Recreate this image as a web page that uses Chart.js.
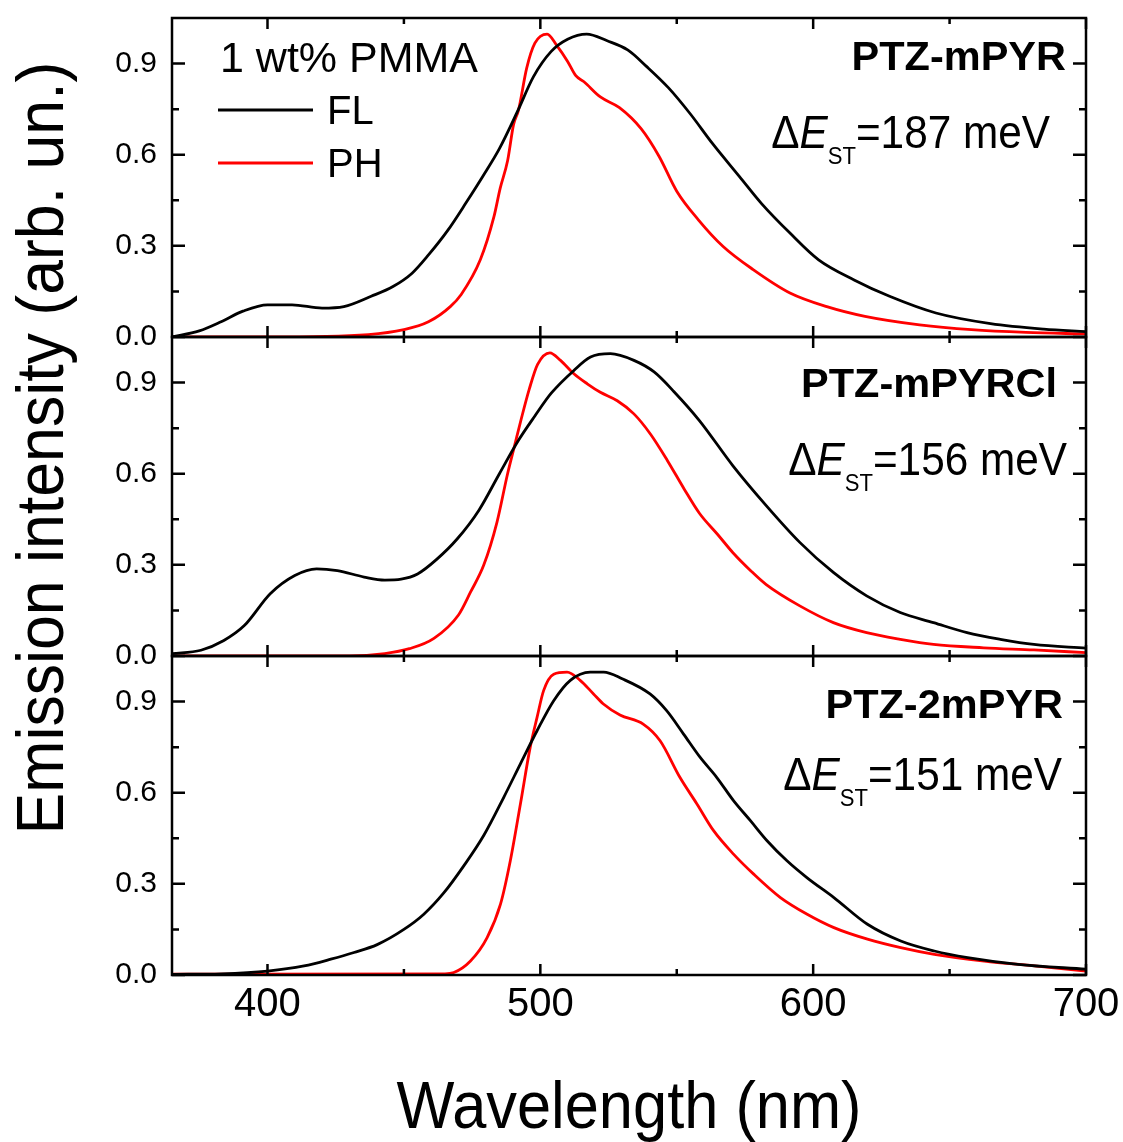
<!DOCTYPE html>
<html>
<head>
<meta charset="utf-8">
<script src="https://cdn.jsdelivr.net/npm/chart.js@4.4.1/dist/chart.umd.min.js"></script>
<style>
  html, body { margin: 0; padding: 0; background: #fff; }
  canvas { display: block; }
</style>
</head>
<body>
<canvas id="spectra" width="1123" height="1142"></canvas>
<script>
// PTZ-mPYR, fluorescence and phosphorescence (nm / normalized intensity)
const mpyrFlNm = [365, 375, 383, 391, 400, 409, 420, 428, 438, 446, 453, 459, 466, 473, 479, 485, 491.5, 497.5, 504, 510, 517, 524.5, 532, 539, 547, 555, 563, 573, 581, 591.5, 602, 615, 628, 645, 665, 684.5, 700];
const mpyrFlI  = [0.00, 0.02, 0.05, 0.085, 0.106, 0.106, 0.095, 0.10, 0.134, 0.166, 0.21, 0.27, 0.35, 0.445, 0.53, 0.62, 0.74, 0.857, 0.94, 0.98, 0.997, 0.975, 0.945, 0.89, 0.82, 0.734, 0.638, 0.528, 0.44, 0.342, 0.254, 0.188, 0.134, 0.079, 0.044, 0.026, 0.018];
const mpyrPhNm = [365, 400, 437, 450, 459, 467, 471, 478, 483, 485.3, 488, 490.2, 492, 495, 498, 502.5, 506, 510, 513, 516, 522, 529, 537, 543.5, 550, 558, 567, 578, 591.5, 605, 619, 639, 658, 678, 700];
const mpyrPhI  = [0.0, 0.0, 0.008, 0.024, 0.05, 0.10, 0.14, 0.254, 0.396, 0.49, 0.58, 0.70, 0.747, 0.885, 0.967, 0.997, 0.96, 0.907, 0.86, 0.84, 0.79, 0.755, 0.685, 0.595, 0.48, 0.385, 0.298, 0.222, 0.145, 0.10, 0.068, 0.04, 0.024, 0.015, 0.01];

// PTZ-mPYRCl
const clFlNm = [365, 375.6, 384, 391.5, 401, 410, 418, 425.6, 435.4, 443, 449, 455, 462, 469.5, 477.5, 485, 492, 498, 504, 512.3, 518.4, 525.7, 534.3, 541.7, 549, 558.3, 570.6, 582.8, 595.1, 607.4, 619.6, 631.9, 644.1, 656.4, 668.6, 680.9, 700];
const clFlI  = [0.008, 0.019, 0.051, 0.10, 0.205, 0.265, 0.287, 0.281, 0.26, 0.25, 0.253, 0.27, 0.318, 0.385, 0.48, 0.60, 0.71, 0.79, 0.865, 0.94, 0.984, 0.995, 0.973, 0.935, 0.87, 0.775, 0.626, 0.495, 0.374, 0.275, 0.198, 0.143, 0.11, 0.077, 0.055, 0.038, 0.026];
const clPhNm = [365, 430, 443, 452, 461, 470, 474.4, 479.3, 484.1, 488, 490.5, 493, 496, 499, 503.5, 507.4, 512.3, 517.2, 522, 528.2, 534.3, 540.4, 546.6, 552.7, 558.3, 565, 570.6, 577.2, 582.8, 595.1, 607.4, 619.6, 631.9, 644.1, 662.5, 680.9, 700];
const clPhI  = [0.0, 0.0, 0.008, 0.024, 0.058, 0.135, 0.21, 0.30, 0.44, 0.60, 0.69, 0.78, 0.88, 0.96, 0.998, 0.973, 0.929, 0.896, 0.868, 0.84, 0.797, 0.73, 0.643, 0.55, 0.47, 0.40, 0.34, 0.28, 0.235, 0.165, 0.11, 0.077, 0.055, 0.038, 0.027, 0.02, 0.011];

// PTZ-2mPYR
const twoFlNm = [365, 383, 400, 413.4, 423.2, 431.7, 440.2, 450, 457.3, 464.6, 472, 479.3, 486.6, 492.7, 498.8, 504.9, 511, 518.3, 523.2, 530, 540.2, 546.3, 552.5, 558.6, 564.7, 570.8, 577, 583.1, 590.4, 597.8, 607.6, 619.9, 632.1, 644.4, 656.6, 675, 700];
const twoFlI  = [0.002, 0.004, 0.013, 0.03, 0.052, 0.074, 0.10, 0.15, 0.20, 0.27, 0.36, 0.46, 0.585, 0.695, 0.804, 0.903, 0.97, 0.997, 0.997, 0.975, 0.925, 0.87, 0.793, 0.716, 0.65, 0.574, 0.508, 0.442, 0.376, 0.32, 0.255, 0.167, 0.112, 0.079, 0.057, 0.035, 0.019];
const twoPhNm = [365, 465, 468.3, 474.4, 480.5, 485.4, 489, 492.7, 496.3, 498.8, 501.2, 504.9, 509.8, 514.6, 519.5, 523, 529.2, 537.7, 543.9, 551.2, 557.4, 563.5, 570.8, 578.2, 588, 597.8, 607.6, 619.9, 632.1, 644.4, 662.7, 681.1, 700];
const twoPhI  = [0.003, 0.004, 0.008, 0.046, 0.123, 0.233, 0.376, 0.563, 0.75, 0.848, 0.936, 0.99, 0.997, 0.97, 0.925, 0.893, 0.856, 0.826, 0.771, 0.65, 0.563, 0.475, 0.398, 0.332, 0.255, 0.20, 0.156, 0.118, 0.09, 0.068, 0.046, 0.03, 0.013];

const compounds = ['PTZ-mPYR', 'PTZ-mPYRCl', 'PTZ-2mPYR'];
const gapsMeV = [187, 156, 151];

const xTicks = [400, 500, 600, 700];
const xMinorTicks = [450, 550, 650];
const yTicks = [0, 0.3, 0.6, 0.9];
const yMinorTicks = [0.15, 0.45, 0.75];

const FONT = '"Liberation Sans", Arial, Helvetica, sans-serif';
const FL_COLOR = '#000000';
const PH_COLOR = '#ff0000';

// panel order top -> bottom; stacked y axes are placed last-listed on top
const panelIds = ['yTop', 'yMid', 'yBot'];
// label offsets inside each panel: [from right edge, from panel top]
const labelPos = {
  yTop: { name: [20, 52], gap: [36, 130] },
  yMid: { name: [29, 60], gap: [19, 138] },
  yBot: { name: [23, 62], gap: [24, 134] }
};

const pts = (nm, val) => nm.map((x, i) => ({ x: x, y: val[i] }));

const traces = [
  [mpyrFlNm, mpyrFlI, mpyrPhNm, mpyrPhI],
  [clFlNm, clFlI, clPhNm, clPhI],
  [twoFlNm, twoFlI, twoPhNm, twoPhI]
];

const datasets = [];
traces.forEach((t, i) => {
  datasets.push({ label: 'FL', data: pts(t[0], t[1]), yAxisID: panelIds[i], borderColor: FL_COLOR });
  datasets.push({ label: 'PH', data: pts(t[2], t[3]), yAxisID: panelIds[i], borderColor: PH_COLOR });
});
datasets.forEach(d => {
  d.borderWidth = 2.8;
  d.pointRadius = 0;
  d.fill = false;
  d.cubicInterpolationMode = 'monotone';
});

function yScale(id) {
  return {
    type: 'linear',
    position: 'left',
    stack: 'panels',
    stackWeight: 1,
    min: 0,
    max: 1.05,
    afterFit: s => { s.width = 172; s.paddingTop = 0; s.paddingBottom = 0; },
    afterBuildTicks: s => { s.ticks = yTicks.map(v => ({ value: v })); },
    grid: { display: false, drawTicks: false },
    border: { display: false },
    ticks: {
      padding: 15,
      color: '#000',
      font: { family: FONT, size: 30 },
      callback: v => v.toFixed(1)
    }
  };
}

// text squeezed horizontally by sx
function sqText(ctx, text, x, y, font, sx, align) {
  ctx.save();
  ctx.font = font;
  ctx.textAlign = 'left';
  ctx.textBaseline = 'alphabetic';
  const w = ctx.measureText(text).width * sx;
  const x0 = align === 'right' ? x - w : align === 'center' ? x - w / 2 : x;
  ctx.translate(x0, y);
  ctx.scale(sx, 1);
  ctx.fillText(text, 0, 0);
  ctx.restore();
  return w;
}

const framePlugin = {
  id: 'frames',
  afterDraw(chart) {
    const ctx = chart.ctx;
    const xs = chart.scales.x;
    ctx.save();
    ctx.strokeStyle = '#000';
    ctx.fillStyle = '#000';
    ctx.lineWidth = 2.5;
    ctx.lineCap = 'butt';

    panelIds.forEach((id, i) => {
      const ys = chart.scales[id];
      const L = xs.left, R = xs.right, T = ys.top, B = ys.bottom;
      ctx.strokeRect(L, T, R - L, B - T);

      ctx.beginPath();
      const xt = (v, len) => {
        const px = xs.getPixelForValue(v);
        ctx.moveTo(px, B); ctx.lineTo(px, B - len);
        ctx.moveTo(px, T); ctx.lineTo(px, T + len);
      };
      xTicks.forEach(v => xt(v, 11));
      xMinorTicks.forEach(v => xt(v, 6));
      const yt = (v, len) => {
        const py = ys.getPixelForValue(v);
        ctx.moveTo(L, py); ctx.lineTo(L + len, py);
        ctx.moveTo(R, py); ctx.lineTo(R - len, py);
      };
      yTicks.forEach(v => yt(v, 13));
      yMinorTicks.forEach(v => yt(v, 7));
      ctx.stroke();

      // compound name and singlet-triplet gap
      const lp = labelPos[id];
      sqText(ctx, compounds[i], R - lp.name[0], T + lp.name[1], 'bold 41.5px ' + FONT, 1, 'right');

      const size = 46, sx = 0.92;
      const parts = [
        { t: '\u0394', f: size + 'px ' + FONT, dy: 0 },
        { t: 'E', f: 'italic ' + size + 'px ' + FONT, dy: 0 },
        { t: 'ST', f: '24px ' + FONT, dy: 16 },
        { t: '=' + gapsMeV[i] + ' meV', f: size + 'px ' + FONT, dy: 0 }
      ];
      let total = 0;
      parts.forEach(p => { ctx.font = p.f; p.w = ctx.measureText(p.t).width * sx; total += p.w; });
      let x = R - lp.gap[0] - total;
      const base = T + lp.gap[1];
      parts.forEach(p => { sqText(ctx, p.t, x, base + p.dy, p.f, sx, 'left'); x += p.w; });
    });

    // legend in the top panel
    const legendFont = '40px ' + FONT;
    sqText(ctx, '1 wt% PMMA', 220, 72, '43px ' + FONT, 1, 'left');
    ctx.lineWidth = 2.8;
    ctx.beginPath();
    ctx.strokeStyle = FL_COLOR;
    ctx.moveTo(218, 110); ctx.lineTo(313, 110);
    ctx.stroke();
    ctx.beginPath();
    ctx.strokeStyle = PH_COLOR;
    ctx.moveTo(218, 163); ctx.lineTo(313, 163);
    ctx.stroke();
    sqText(ctx, 'FL', 327, 124, legendFont, 1, 'left');
    sqText(ctx, 'PH', 327, 177, legendFont, 1, 'left');

    // axis titles
    sqText(ctx, 'Wavelength (nm)', (xs.left + xs.right) / 2, 1128, '66px ' + FONT, 0.93, 'center');
    ctx.save();
    ctx.translate(63, 448);
    ctx.rotate(-Math.PI / 2);
    sqText(ctx, 'Emission intensity (arb. un.)', 0, 0, '67px ' + FONT, 0.935, 'center');
    ctx.restore();

    ctx.restore();
  }
};

new Chart(document.getElementById('spectra'), {
  type: 'line',
  data: { datasets: datasets },
  options: {
    responsive: false,
    animation: false,
    devicePixelRatio: 1,
    layout: { padding: { left: 0, right: 37, top: 18, bottom: 0 } },
    plugins: { legend: { display: false }, tooltip: { enabled: false } },
    scales: {
      x: {
        type: 'linear',
        position: 'bottom',
        min: 365,
        max: 700,
        afterFit: s => { s.height = 167; s.paddingLeft = 0; s.paddingRight = 0; },
        afterBuildTicks: s => { s.ticks = xTicks.map(v => ({ value: v })); },
        grid: { display: false, drawTicks: false },
        border: { display: false },
        ticks: {
          padding: 6,
          maxRotation: 0,
          color: '#000',
          font: { family: FONT, size: 40 },
          callback: v => String(v)
        }
      },
      yBot: yScale('yBot'),
      yMid: yScale('yMid'),
      yTop: yScale('yTop')
    }
  },
  plugins: [framePlugin]
});
</script>
</body>
</html>
